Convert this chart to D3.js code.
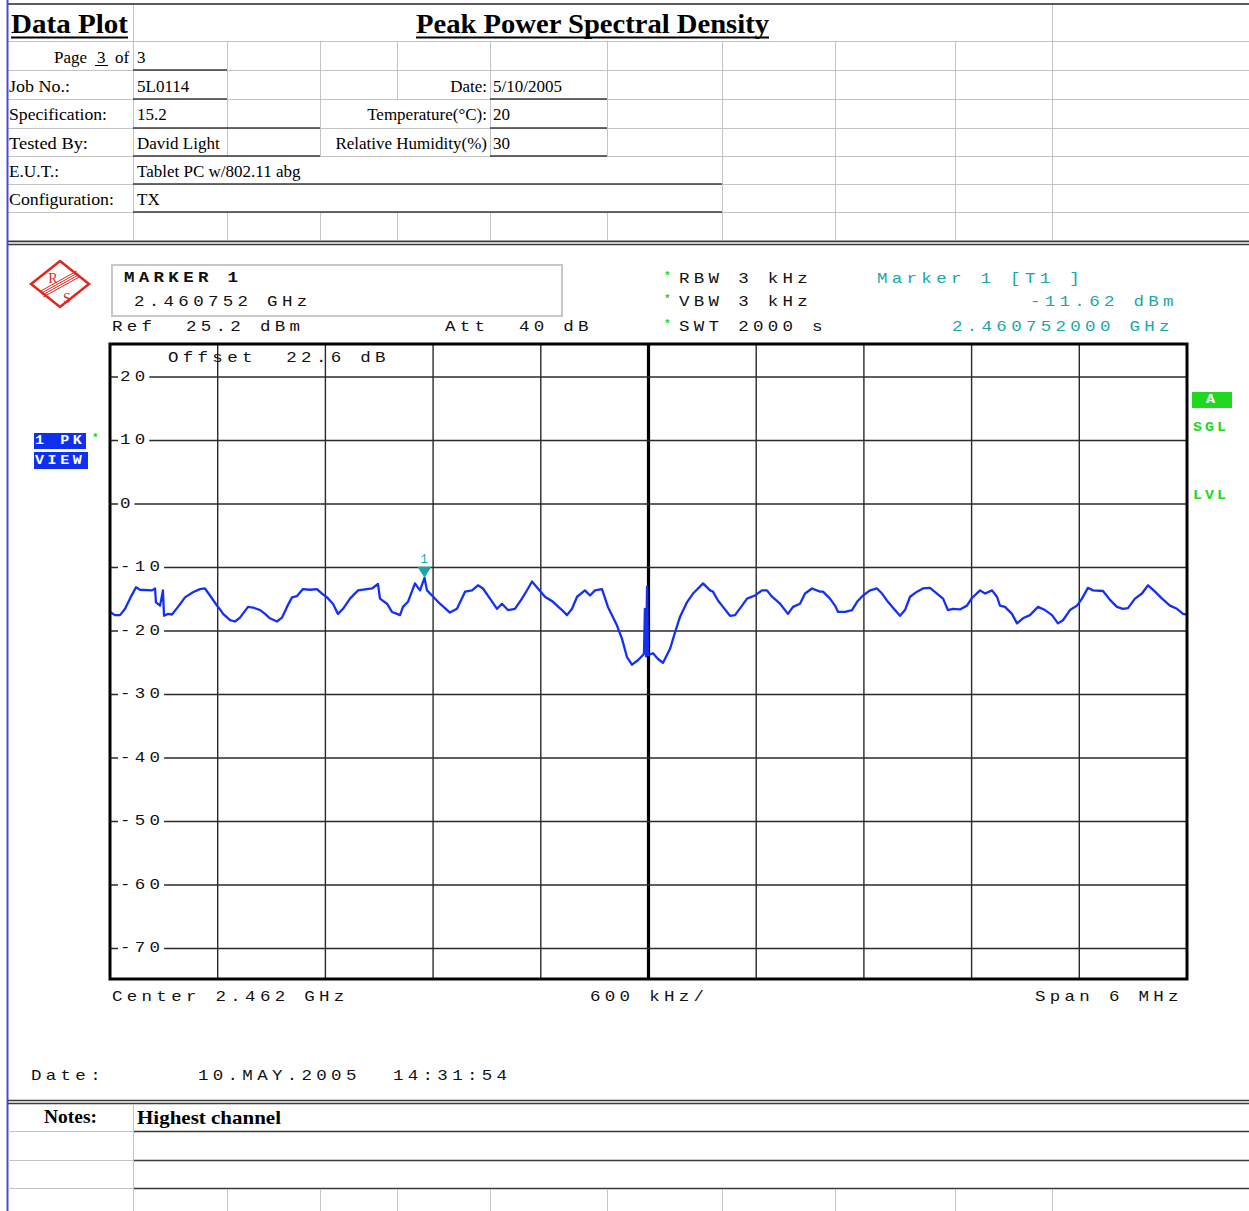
<!DOCTYPE html>
<html><head><meta charset="utf-8">
<script src="https://cdn.jsdelivr.net/npm/d3@7"></script>
<style>body{margin:0;background:#fff} text{white-space:pre}</style>
</head><body><svg id="c" width="1249" height="1211"></svg>
<script>
// ---------------- DATA ----------------
const startFreqMHz = 2459;          // left edge (Center 2.462 GHz, Span 6 MHz)
const spanMHz = 6;
const freqOffsetMHz = [0.000,0.028,0.056,0.084,0.111,0.145,0.167,0.234,0.251,0.256,0.279,0.295,0.301,0.323,0.345,0.379,0.418,0.462,0.501,0.529,0.557,0.596,0.613,0.630,0.669,0.696,0.724,0.769,0.797,0.836,0.864,0.891,0.930,0.958,0.986,1.014,1.042,1.075,1.114,1.153,1.181,1.209,1.242,1.270,1.298,1.337,1.382,1.432,1.460,1.493,1.504,1.543,1.571,1.599,1.616,1.632,1.660,1.699,1.727,1.752,1.766,1.794,1.838,1.894,1.933,1.978,2.017,2.050,2.078,2.117,2.156,2.184,2.217,2.256,2.295,2.329,2.351,2.384,2.423,2.468,2.518,2.546,2.574,2.602,2.646,2.674,2.702,2.741,2.774,2.824,2.852,2.880,2.908,2.941,2.969,2.975,2.980,2.986,2.992,2.997,3.025,3.053,3.081,3.120,3.148,3.175,3.214,3.248,3.276,3.304,3.343,3.359,3.387,3.415,3.454,3.482,3.521,3.549,3.593,3.632,3.660,3.688,3.733,3.777,3.805,3.844,3.872,3.911,3.955,3.972,4.011,4.039,4.056,4.095,4.134,4.162,4.195,4.234,4.273,4.301,4.334,4.373,4.401,4.429,4.457,4.496,4.529,4.568,4.607,4.641,4.668,4.696,4.735,4.774,4.802,4.847,4.875,4.914,4.941,4.958,4.986,5.025,5.053,5.086,5.125,5.170,5.209,5.248,5.281,5.309,5.348,5.387,5.415,5.448,5.476,5.532,5.571,5.610,5.643,5.671,5.710,5.749,5.783,5.822,5.861,5.905,5.944,5.978,6.000];
const levelDbm = [-17.0,-17.5,-17.5,-16.5,-14.9,-13.1,-13.5,-13.6,-13.3,-15.5,-16.0,-13.6,-17.6,-17.3,-17.4,-16.2,-14.7,-13.9,-13.4,-13.3,-14.4,-16.0,-16.6,-17.3,-18.3,-18.5,-17.9,-16.2,-16.3,-16.7,-17.3,-18.0,-18.5,-17.9,-16.2,-14.7,-14.5,-13.4,-13.5,-13.4,-14.1,-14.7,-15.7,-17.3,-16.5,-14.9,-13.6,-13.4,-13.3,-12.6,-14.9,-15.7,-17.0,-17.3,-17.5,-16.2,-15.4,-12.5,-13.6,-11.62,-13.6,-14.4,-15.7,-17.1,-16.5,-13.8,-13.6,-12.8,-13.3,-14.9,-16.5,-15.7,-16.7,-16.5,-14.9,-13.3,-12.2,-13.3,-14.6,-15.4,-16.7,-17.5,-16.5,-14.6,-13.6,-14.4,-13.6,-13.4,-16.2,-19.1,-21.2,-24.1,-25.3,-24.6,-23.8,-23.5,-16.5,-24.0,-13.0,-23.8,-23.5,-24.4,-25.0,-22.8,-20.2,-17.8,-15.5,-14.1,-13.3,-12.5,-13.6,-13.8,-15.2,-16.2,-17.6,-17.5,-16.0,-14.9,-14.4,-13.6,-13.6,-14.6,-15.7,-17.3,-16.2,-15.7,-14.1,-13.3,-13.8,-13.8,-14.9,-16.0,-17.0,-17.0,-16.7,-15.4,-14.4,-13.6,-13.3,-14.1,-15.4,-16.7,-17.6,-16.7,-14.6,-13.8,-13.3,-13.2,-14.1,-14.9,-16.7,-16.5,-16.6,-16.0,-14.8,-13.6,-14.1,-13.6,-14.6,-16.0,-16.2,-17.3,-18.8,-18.0,-17.5,-16.2,-16.7,-17.5,-18.8,-18.3,-16.7,-16.0,-14.9,-13.2,-13.6,-13.7,-15.1,-16.2,-16.5,-16.4,-14.9,-14.1,-12.8,-13.8,-14.9,-16.0,-16.5,-17.3,-17.4];
const refLevelDbm = 25.2;
const dbPerDiv = 10;
const yTickValues = [20, 10, 0, -10, -20, -30, -40, -50, -60, -70];
const xDivisions = [0, 0.6, 1.2, 1.8, 2.4, 3.0, 3.6, 4.2, 4.8, 5.4, 6.0];
const markerFreqOffsetMHz = 1.752;
const markerLevelDbm = -11.62;

// sheet texts
const sheetLabels = ["Job No.:", "Specification:", "Tested By:", "E.U.T.:", "Configuration:"];
const sheetValues = ["5L0114", "15.2", "David Light", "Tablet PC w/802.11 abg", "TX"];
const sideLabels = ["Date:", "Temperature(°C):", "Relative Humidity(%)"];
const sideValues = ["5/10/2005", "20", "30"];

// ---------------- DRAW ----------------
const svg = d3.select("#c");
const W = 1249, H = 1211;
const LIGHT = "#c4c4c4", DARK = "#3a3a3a";
const SX = 1.25;          // horizontal stretch of instrument font
const ADV = 14.8;         // char advance of instrument font

function line(x1, y1, x2, y2, col, w) {
  svg.append("line").attr("x1", x1).attr("y1", y1).attr("x2", x2).attr("y2", y2)
    .attr("stroke", col).attr("stroke-width", w);
}
function serif(x, y, s, size, opts = {}) {
  const t = svg.append("text").attr("x", x).attr("y", y).text(s)
    .attr("font-family", "'Liberation Serif', 'DejaVu Serif', serif")
    .attr("font-size", size).attr("fill", "#000");
  if (opts.bold) t.attr("font-weight", "bold");
  if (opts.anchor) t.attr("text-anchor", opts.anchor);
  if (opts.len) t.attr("textLength", opts.len).attr("lengthAdjust", "spacingAndGlyphs");
  return t;
}
function mono(x, y, s, opts = {}) {
  const size = opts.size || 14;
  const adv = opts.adv || ADV;
  const sx = opts.sx || SX;
  const ls = adv / sx - size * 0.6;
  const t = svg.append("text").attr("transform", `translate(${x},${y}) scale(${sx},1)`).text(s)
    .attr("font-family", "'Liberation Mono', 'DejaVu Sans Mono', monospace")
    .attr("font-size", size)
    .attr("letter-spacing", ls)
    .attr("fill", opts.fill || "#111")
    .attr("dominant-baseline", "central");
  if (opts.bold) t.attr("font-weight", "bold");
  return t;
}

// ---- spreadsheet top ----
const colX = [133, 227, 320, 397, 490, 607, 722, 835, 955, 1052];
const rowY = [41, 70, 99, 128, 156, 184, 212, 240];
rowY.forEach(y => line(8, y + 0.5, W, y + 0.5, LIGHT, 1));
const rowCols = [
  colX, colX,
  [133, 227, 320, 490, 607, 722, 835, 955, 1052],
  [133, 227, 320, 490, 607, 722, 835, 955, 1052],
  [133, 722, 835, 955, 1052],
  [133, 722, 835, 955, 1052],
  colX
];
rowCols.forEach((cols, i) => cols.forEach(x => line(x + 0.5, rowY[i], x + 0.5, rowY[i + 1], LIGHT, 1)));
line(133.5, 4, 133.5, 41, LIGHT, 1);
line(1052.5, 4, 1052.5, 41, LIGHT, 1);
line(8, 4, W, 4, "#5a5a5a", 2);
line(8, 241.5, W, 241.5, DARK, 1.5);
line(8, 244.5, W, 244.5, DARK, 1.5);

// titles
serif(11, 33, "Data Plot", 28, { bold: true, len: 117 });
line(11, 37.5, 128, 37.5, "#000", 2);
serif(416, 33, "Peak Power Spectral Density", 28, { bold: true, len: 353 });
line(416, 37.5, 769, 37.5, "#000", 2);

// page row
serif(54, 63, "Page", 17);
serif(97, 63, "3", 17);
line(95, 65.5, 108, 65.5, "#000", 1);
serif(115, 63, "of", 17);
serif(137, 63, "3", 17);
line(133, 70, 227, 70, DARK, 1.5);

// label rows
const rowBase = [92, 120, 149, 177, 205];
const labLens = [61, 98, 79, 50, 105];
sheetLabels.forEach((s, i) => serif(9, rowBase[i], s, 17, { len: labLens[i] }));
sheetValues.forEach((s, i) => serif(137, rowBase[i], s, 17));
const valEnds = [227, 320, 320, 722, 722];
const rowBottoms = [99, 128, 156, 184, 212];
valEnds.forEach((e, i) => line(133, rowBottoms[i], e, rowBottoms[i], DARK, 1.5));
sideLabels.forEach((s, i) => serif(487, rowBase[i], s, 17, { anchor: "end" }));
sideValues.forEach((s, i) => serif(493, rowBase[i], s, 17));
[99, 128, 156].forEach(y => line(490, y, 607, y, DARK, 1.5));

// left blue border
line(7.5, 0, 7.5, H, "#4a4ad6", 2);

// ---- bottom spreadsheet ----
line(8, 1100.5, W, 1100.5, DARK, 1.5);
line(8, 1103.5, W, 1103.5, DARK, 1.5);
[1131, 1160, 1188].forEach(y => {
  line(8, y + 0.5, 133, y + 0.5, LIGHT, 1);
  line(133, y + 0.5, W, y + 0.5, DARK, 1.5);
});
line(133.5, 1104, 133.5, H, LIGHT, 1);
colX.slice(1).forEach(x => line(x + 0.5, 1189, x + 0.5, H, LIGHT, 1));
serif(44, 1123, "Notes:", 19, { bold: true, len: 53 });
serif(137, 1124, "Highest channel", 19, { bold: true, len: 144 });

// ---- analyzer screen ----
const x = d3.scaleLinear().domain([0, spanMHz]).range([110, 1187]);
const y = d3.scaleLinear().domain([refLevelDbm - 10 * dbPerDiv, refLevelDbm]).range([979, 344]);

// R&S logo
const RED = "#e3241c";
const logo = svg.append("g");
logo.append("path").attr("d", "M60,261 L89,284 L60,307 L31,284 Z")
  .attr("fill", "#fff").attr("stroke", RED).attr("stroke-width", 2.5);
[-3, -1, 1, 3].forEach(o => logo.append("line")
  .attr("x1", 42 + o * 0.4).attr("y1", 294 + o).attr("x2", 78 + o * 0.4).attr("y2", 274 + o)
  .attr("stroke", RED).attr("stroke-width", 1));
logo.append("text").attr("x", 53).attr("y", 283).text("R").attr("fill", RED)
  .attr("font-family", "'Liberation Serif', serif").attr("font-size", 14).attr("text-anchor", "middle");
logo.append("text").attr("x", 67).attr("y", 303).text("S").attr("fill", RED)
  .attr("font-family", "'Liberation Serif', serif").attr("font-size", 14).attr("text-anchor", "middle");

// marker box
svg.append("rect").attr("x", 112).attr("y", 265).attr("width", 450).attr("height", 51)
  .attr("fill", "none").attr("stroke", "#c8c8c8").attr("stroke-width", 2);
mono(124, 278, "MARKER 1", { bold: true });
mono(134, 302, "2.460752 GHz");
mono(112, 327, "Ref  25.2 dBm");
mono(445, 327, "Att  40 dB");
const GREEN = "#20d820", TEAL = "#1aa6a6";
[["RBW 3 kHz", 279], ["VBW 3 kHz", 302], ["SWT 2000 s", 327]].forEach(([s, yy]) => {
  mono(664, yy - 3, "*", { fill: GREEN, size: 11, sx: 1, adv: 7, bold: true });
  mono(679, yy, s);
});
mono(877, 279, "Marker 1 [T1 ]", { fill: TEAL });
mono(1030, 302, "-11.62 dBm", { fill: TEAL });
mono(952, 327, "2.460752000 GHz", { fill: TEAL });

// grid
const GRID = "#2a2a2a";
xDivisions.forEach((d, i) => {
  svg.append("line").attr("x1", x(d)).attr("x2", x(d)).attr("y1", 344).attr("y2", 979)
    .attr("stroke", i === 5 ? "#000" : GRID).attr("stroke-width", i === 5 ? 3.2 : 1.4);
});
yTickValues.forEach(v => {
  const yy = y(v);
  svg.append("line").attr("x1", 110).attr("x2", 1187).attr("y1", yy).attr("y2", yy)
    .attr("stroke", GRID).attr("stroke-width", 1.4);
  const lab = String(v);
  const end = 120 + (lab.length - 1) * ADV + 14 * 0.6 * SX;
  svg.append("rect").attr("x", 118).attr("y", yy - 6).attr("width", end - 118 + 4).attr("height", 12).attr("fill", "#fff");
  mono(120, yy, lab);
});
mono(168, 358, "Offset  22.6 dB");

// trace
const pts = freqOffsetMHz.map((f, i) => [f, levelDbm[i]]);
svg.append("path").datum(pts)
  .attr("d", d3.line().x(d => x(d[0])).y(d => y(d[1])))
  .attr("fill", "none").attr("stroke", "#1530f5").attr("stroke-width", 2.3)
  .attr("stroke-linejoin", "round");

// marker
const mx = x(markerFreqOffsetMHz), my = y(markerLevelDbm);
svg.append("path").attr("d", `M${mx - 7},${my - 11} L${mx + 7},${my - 11} L${mx},${my} Z`).attr("fill", TEAL);
mono(mx - 4, my - 18, "1", { fill: TEAL, size: 12, sx: 1, adv: 8 });

// frame
svg.append("rect").attr("x", 110).attr("y", 344).attr("width", 1077).attr("height", 635)
  .attr("fill", "none").attr("stroke", "#000").attr("stroke-width", 3);

// side boxes
svg.append("rect").attr("x", 34).attr("y", 433).attr("width", 52).attr("height", 16).attr("fill", "#1030f0");
svg.append("rect").attr("x", 34).attr("y", 452).attr("width", 54).attr("height", 17).attr("fill", "#1030f0");
mono(35, 441, "1 PK", { fill: "#fff", bold: true, size: 12, adv: 12.6 });
mono(35, 461, "VIEW", { fill: "#fff", bold: true, size: 12, adv: 12.6 });
mono(92, 438, "*", { fill: GREEN, size: 11, sx: 1, adv: 7, bold: true });

svg.append("rect").attr("x", 1192).attr("y", 392).attr("width", 40).attr("height", 16).attr("fill", GREEN);
mono(1206, 400, "A", { fill: "#fff", bold: true, size: 12, adv: 9 });
mono(1193, 428, "SGL", { fill: GREEN, bold: true, size: 12, adv: 12 });
mono(1193, 496, "LVL", { fill: GREEN, bold: true, size: 12, adv: 12 });

// bottom annotations
mono(112, 997, "Center 2.462 GHz");
mono(590, 997, "600 kHz/");
mono(1035, 997, "Span 6 MHz");
mono(31, 1076, "Date:");
mono(198, 1076, "10.MAY.2005");
mono(393, 1076, "14:31:54");
</script></body></html>
